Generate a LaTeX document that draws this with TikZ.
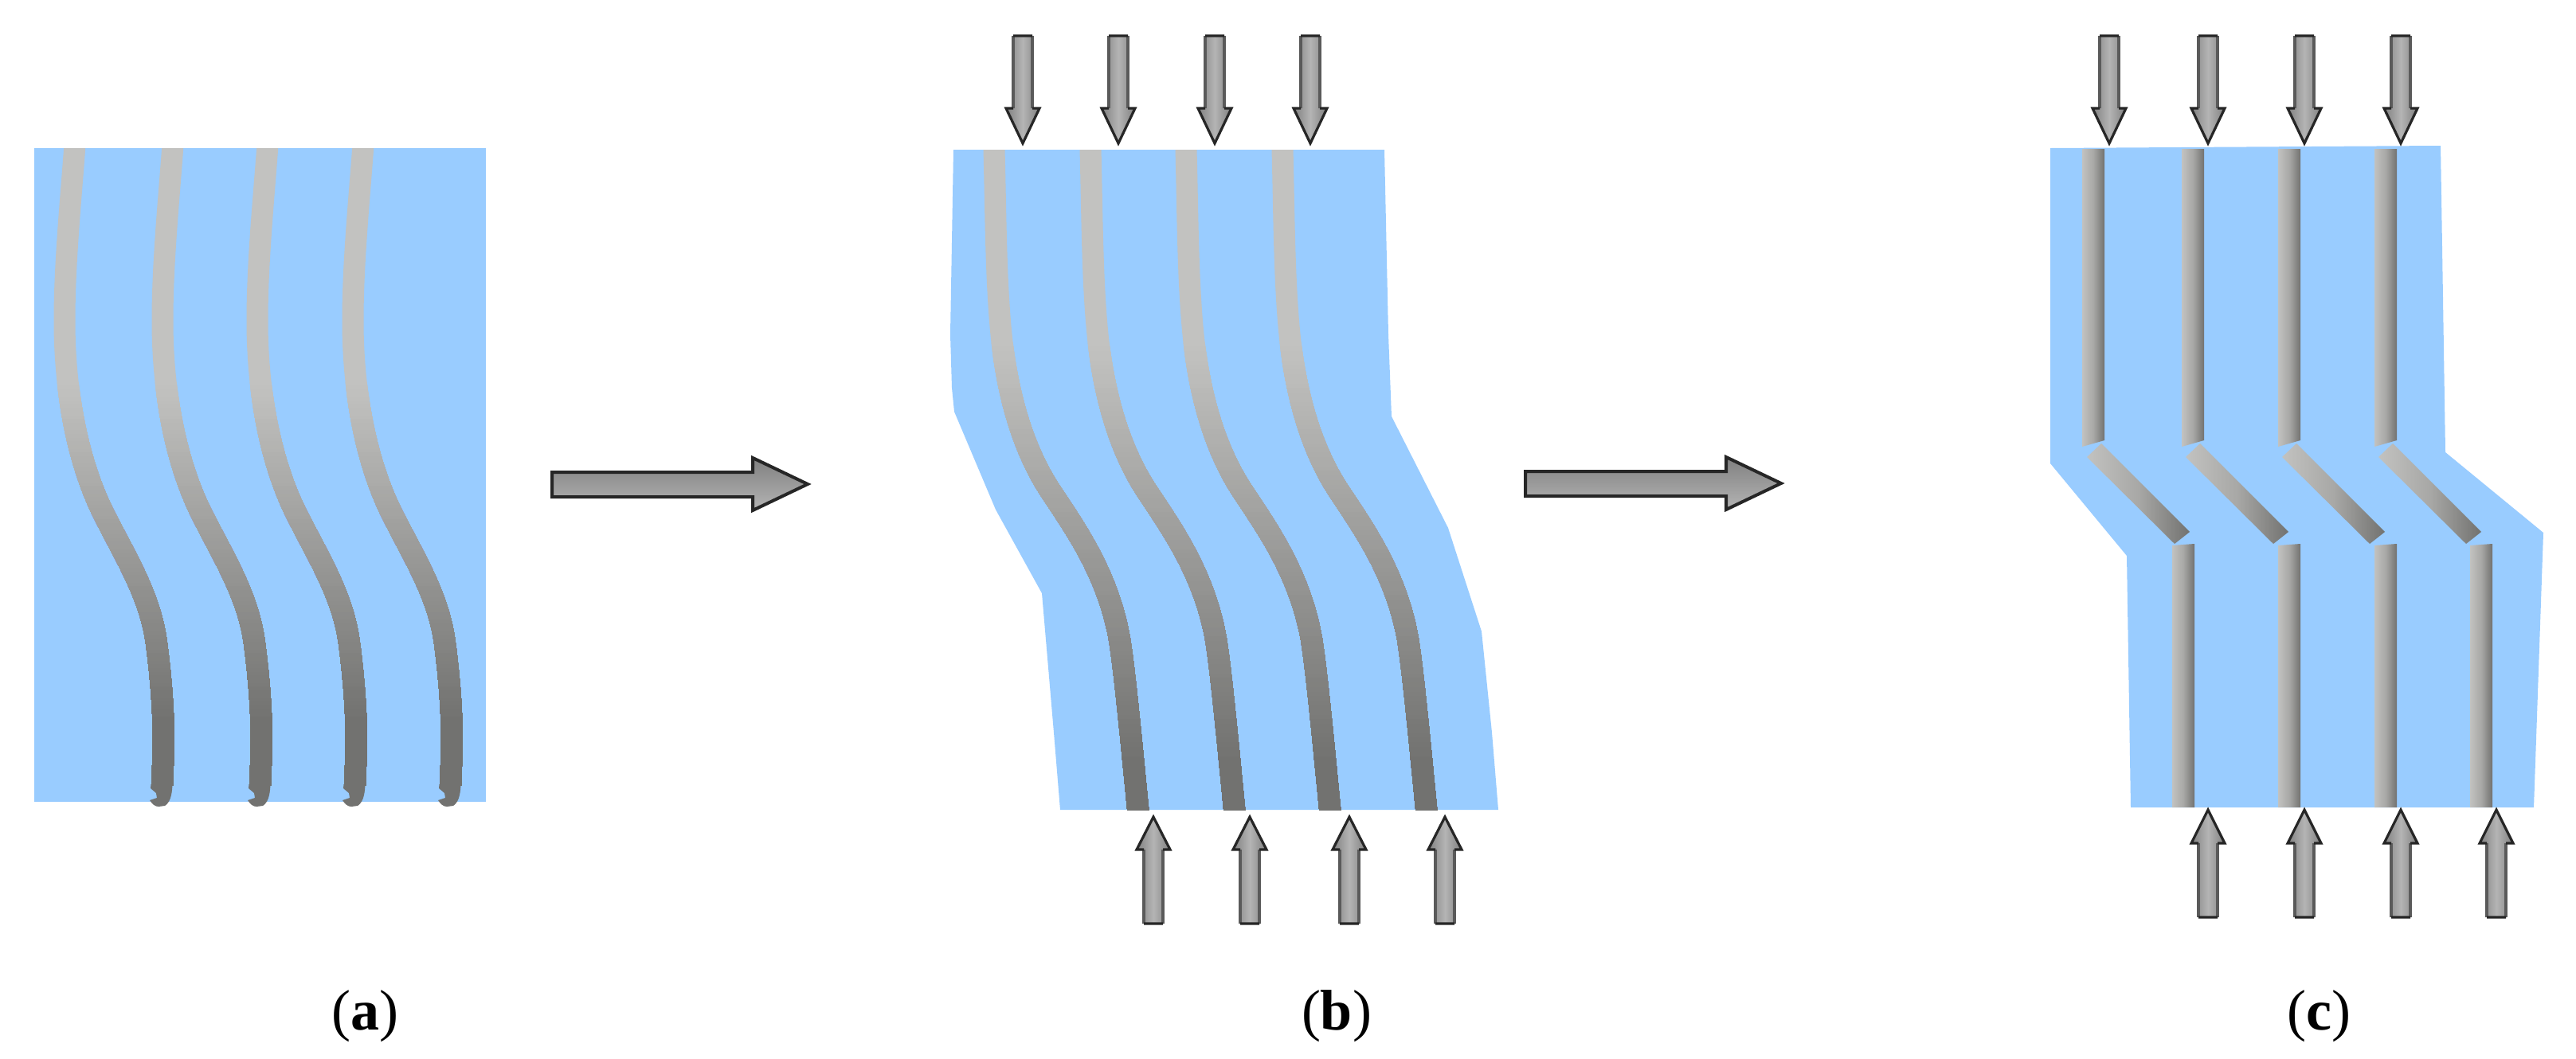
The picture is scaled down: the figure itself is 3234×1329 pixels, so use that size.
\documentclass[tikz,border=0pt]{standalone}
\usepackage{fontspec}
\setmainfont{Liberation Serif}
\definecolor{panelblue}{HTML}{99CCFF}
\definecolor{fibL}{HTML}{C2C2C0}
\definecolor{fibM}{HTML}{A8A8A6}
\definecolor{fibD}{HTML}{727270}
\definecolor{arrowEdge}{HTML}{262626}
\definecolor{arrowSide}{HTML}{5A5A5A}
\definecolor{arrowDark}{HTML}{808080}
\definecolor{arrowLight}{HTML}{B4B4B4}
\tikzset{
  panel/.style={fill=panelblue,draw=none},
  rodshade/.style={left color=fibL,right color=fibD,middle color=fibM,draw=none},
  arrowfillv/.style={draw=none,left color=arrowDark,right color=arrowDark,middle color=arrowLight},
  arrowhedge/.style={draw=arrowEdge,line width=1.6pt,line join=miter},
  arrowsedge/.style={draw=arrowSide,line width=1.8pt},
  arrowh/.style={draw=arrowEdge,line width=2pt,line join=miter,top color=arrowDark,bottom color=arrowLight},
  sublabel/.style={anchor=base,inner sep=0pt,font=\fontsize{36pt}{38pt}\selectfont}
}
% vertical arrow: x, tip y, head base y, end y
\newcommand{\vertarrow}[4]{%
  \shade[arrowfillv] (#1-12,#4) -- (#1+12,#4) -- (#1+12,#3) -- (#1+21,#3) -- (#1,#2) -- (#1-21,#3) -- (#1-12,#3) -- cycle;
  \draw[arrowsedge] (#1-12,#4) -- (#1-12,#3) (#1+12,#4) -- (#1+12,#3);
  \draw[arrowhedge] (#1-12,#3) -- (#1-21,#3) -- (#1,#2) -- (#1+21,#3) -- (#1+12,#3) (#1-12,#4) -- (#1+12,#4);}
\newcommand{\rightarrowshape}[2]{% x offset, y offset
  \path[arrowh,shift={(#1,#2)}] (693,593) -- (945,593) -- (945,575) -- (1014,608) -- (945,641) -- (945,624) -- (693,624) -- cycle;}
% curved rod painted in overlapping bands: 1 start y, 2 ramp start, 3 ramp end, 4 end y, 5 path
\newcommand{\bandedrod}[5]{%
  \begin{scope}
    \clip (0,#1) rectangle (3234,#4);
    \draw[fibL,line width=13.5pt] #5;
  \end{scope}
  \foreach \i in {0,...,90}{%
    \pgfmathsetmacro\yy{#2+\i/90*(#3-#2)}%
    \pgfmathtruncatemacro\pct{\i/90*100}%
    \colorlet{bandc}{fibD!\pct!fibL}%
    \begin{scope}
      \clip (0,\yy) rectangle (3234,#4);
      \draw[bandc,line width=13.5pt] #5;
    \end{scope}}}
\begin{document}
\begin{tikzpicture}[x=0.5pt,y=-0.5pt]
\useasboundingbox (0,0) rectangle (3234,1329);
\fill[white] (0,0) rectangle (3234,1329);

% ---------- panel a
\path[panel] (43,186) rectangle (610,1007);
\foreach \dx in {0,123,242,362}{
  \begin{scope}[shift={(\dx,0)}]
    \bandedrod{186}{480}{900}{986}{(94.5,175) -- (93.7,186) .. controls (89,250) and (81,330) .. (81,403) .. controls (81,500) and (100,585) .. (130,645) .. controls (158,701) and (190,750) .. (197,812) .. controls (202,850) and (206,900) .. (205,933) .. controls (205,955) and (204,975) .. (203,1000)}
    \fill[fibD] (189.5,985) -- (189,990) -- (196,996) -- (197,1002) -- (188,1005) .. controls (191,1010) and (195,1013) .. (199,1013) -- (207,1012) .. controls (213,1008) and (216,1000) .. (216.5,985) -- cycle;
  \end{scope}}

% ---------- panel b
\path[panel] (1197,188) -- (1738,188) -- (1743,420) -- (1747,523) -- (1818,663) -- (1860,793) -- (1873,920) -- (1881,1017) -- (1331,1017) -- (1323,920) -- (1308,745) -- (1250,640) -- (1198,517) -- (1195,487) -- (1193,420) -- cycle;
\foreach \dx in {0,121,241,362}{
  \begin{scope}[shift={(\dx,0)}]
    \bandedrod{188}{430}{950}{1017}{(1247.7,175) -- (1248,188) .. controls (1250,260) and (1250,350) .. (1257,420) .. controls (1263,480) and (1279,558) .. (1321,620) .. controls (1350,664) and (1390,720) .. (1405,800) .. controls (1412,840) and (1422,950) .. (1431,1040)}
  \end{scope}}
\foreach \x in {1284,1404,1525,1645}{\vertarrow{\x}{180}{136}{45}}
\foreach \x in {1448,1569,1694,1814}{\vertarrow{\x}{1026}{1067}{1160}}

% ---------- panel c
\path[panel] (2574,186) -- (3064,183) -- (3070,568) -- (3193,669) -- (3181,1014) -- (2675,1014) -- (2670,698) -- (2574,582) -- cycle;
\foreach \x in {2614,2739,2860,2981}{
  \shade[rodshade] (\x,187) -- (\x+28,187) -- (\x+28,553) -- (\x,561) -- cycle;}
\foreach \dx in {0,124,245,366}{
  \shade[rodshade,shift={(\dx,0)}] (2620,574) -- (2638,557) -- (2749,668) -- (2730,683) -- cycle;}
\foreach \x in {2727,2860,2981,3101}{
  \shade[rodshade] (\x,685) -- (\x+28,683) -- (\x+28,1014) -- (\x,1014) -- cycle;}
\foreach \x in {2648,2772,2893,3014}{\vertarrow{\x}{180}{136}{45}}
\foreach \x in {2772,2893,3014,3134}{\vertarrow{\x}{1017}{1059}{1152}}

% ---------- process arrows
\rightarrowshape{0}{0}
\rightarrowshape{1222}{-1}

% ---------- labels
\node[sublabel] (la) at (458,1293) {(\textbf{a})};
\node[sublabel] (lb) at (1678,1293) {(\textbf{b})};
\node[sublabel] (lc) at (2911,1293) {(\textbf{c})};
\end{tikzpicture}
\end{document}
